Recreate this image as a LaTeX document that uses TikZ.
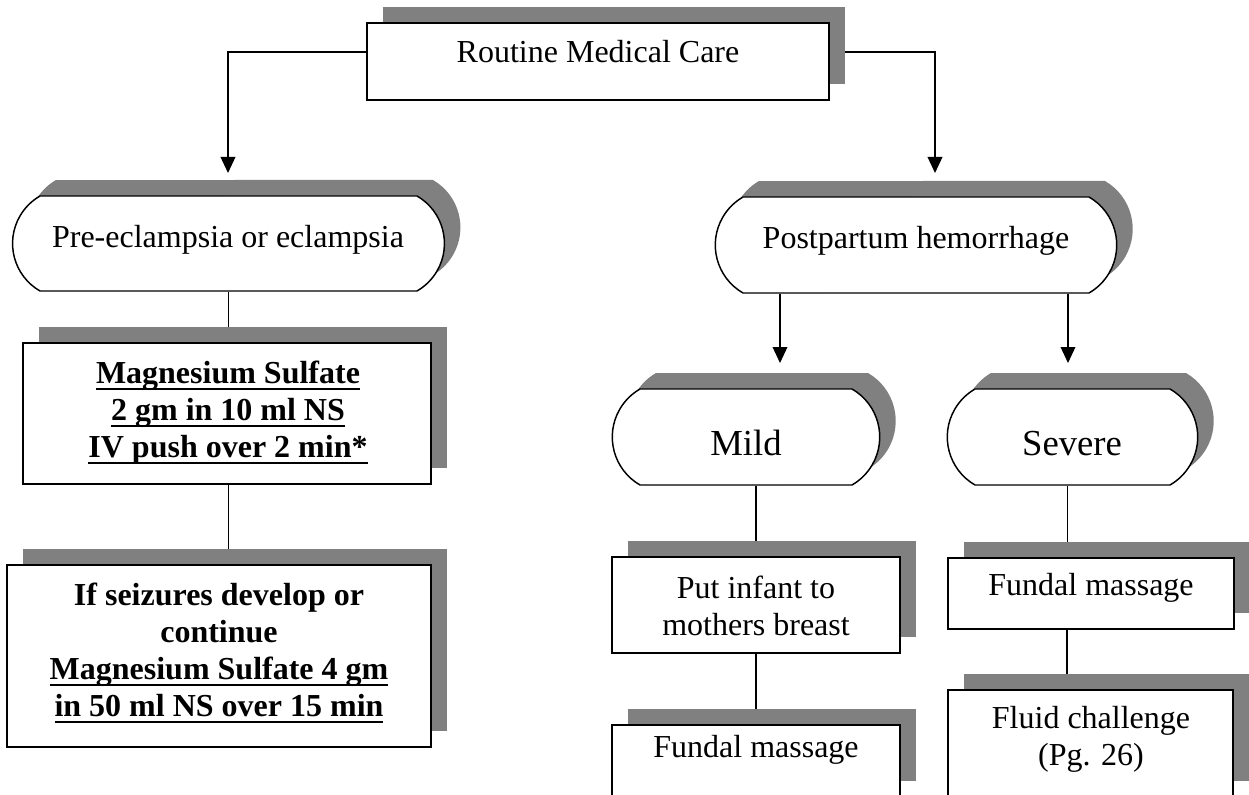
\documentclass[tikz,border=0pt]{standalone}
\usepackage{fontspec}
\setmainfont{Liberation Serif}
\usetikzlibrary{shapes.misc,shadows,arrows.meta,backgrounds,fit,calc}
\newcommand\myul[1]{\setbox0\hbox{#1}\rlap{\rule[-5.5pt]{\wd0}{1.4pt}}\box0}
\begin{document}
\begin{tikzpicture}[x=0.75pt,y=-0.75pt,
  shad/.style={drop shadow={shadow xshift=12pt,shadow yshift=12pt,opacity=1,fill=gray}},
  box/.style={draw,line width=1.1pt,fill=white,inner sep=0pt,rectangle,shad},
  term/.style={draw,line width=1.1pt,fill=white,inner sep=0pt,rounded rectangle,rounded rectangle arc length=120,shad},
  txt/.style={inner sep=0pt,align=center,font=\fontsize{24}{27.75}\selectfont},
  btxt/.style={inner sep=0pt,align=center,font=\bfseries\fontsize{24}{27.75}\selectfont},
  big/.style={inner sep=0pt,font=\fontsize{27.5}{31}\selectfont},
  conn/.style={line width=1.1pt},
  arr/.style={line width=1.1pt,-{Triangle[width=11pt,length=12pt]}}]
\useasboundingbox (0,0) rectangle (1249,795);
% boxes
\node[box,fit={(367,23)(829,100)}] (top) {};
\node[term,fit={(40,196)(417,291)}] (pre) {};
\node[box,fit={(23,343)(431,484)}] (mag) {};
\node[box,fit={(7,565)(431,747)}] (seiz) {};
\node[term,fit={(743,197)(1089,293)}] (post) {};
\node[term,fit={(640,389)(852,485)}] (mild) {};
\node[term,fit={(975,389)(1170,485)}] (sev) {};
\node[box,fit={(612,557)(900,653)}] (put) {};
\node[box,fit={(612,725)(900,797)}] (fundA) {};
\node[box,fit={(948,558)(1234,629)}] (fundB) {};
\node[box,fit={(948,690)(1233,797)}] (fluid) {};
% texts
\node[txt,anchor=base] (topt) at (598,63) {Routine Medical Care};
\node[txt,anchor=base] (pret) at (228,247) {Pre-eclampsia or eclampsia};
\node[btxt,anchor=base] (magt) at (228,457) {\myul{Magnesium Sulfate}\\\myul{2 gm in 10 ml NS}\\\myul{IV push over 2 min*}};
\node[btxt,anchor=base] (seizt) at (219,716) {If seizures develop or\\continue\\\myul{Magnesium Sulfate 4 gm}\\\myul{in 50 ml NS over 15 min}};
\node[txt,anchor=base] (postt) at (916,248) {Postpartum hemorrhage};
\node[big,anchor=base] (mildt) at (746,455) {Mild};
\node[big,anchor=base] (sevt) at (1072,455) {Severe};
\node[txt,anchor=base] (putt) at (756,635) {Put infant to\\mothers breast};
\node[txt,anchor=base] (fundAt) at (756,757) {Fundal massage};
\node[txt,anchor=base] (fundBt) at (1091,595) {Fundal massage};
\node[txt,anchor=base] (fluidt) at (1091,765) {Fluid challenge\\(Pg. 26)};
% connectors
\begin{scope}[on background layer]
\coordinate (tipPre) at (228,173);
\coordinate (tipPost) at (935,173);
\coordinate (tipMild) at (780,363);
\coordinate (tipSev) at (1068,363);
\coordinate (topL) at ($(top.west)+(0,-9.5)$);
\coordinate (topR) at ($(top.east)+(0,-9.5)$);
\coordinate (sevB) at ($(sev.south)+(-5,0)$);
\coordinate (fundBb) at ($(fundB.south)+(-24,0)$);
\draw[arr] (topL) -| (tipPre);
\draw[arr] (topR) -| (tipPost);
\draw[conn] (pre.south) -- (pre.south |- mag.north);
\draw[conn] (mag.south -| pre.south) -- (pre.south |- seiz.north);
\draw[arr] (tipMild |- post.south) -- (tipMild);
\draw[arr] (tipSev |- post.south) -- (tipSev);
\draw[conn] (put.north |- mild.south) -- (put.north);
\draw[conn] (put.south) -- (put.south |- fundA.north);
\draw[conn] (sevB) -- (sevB |- fundB.north);
\draw[conn] (fundBb) -- (fundBb |- fluid.north);
\end{scope}
\end{tikzpicture}
\end{document}
